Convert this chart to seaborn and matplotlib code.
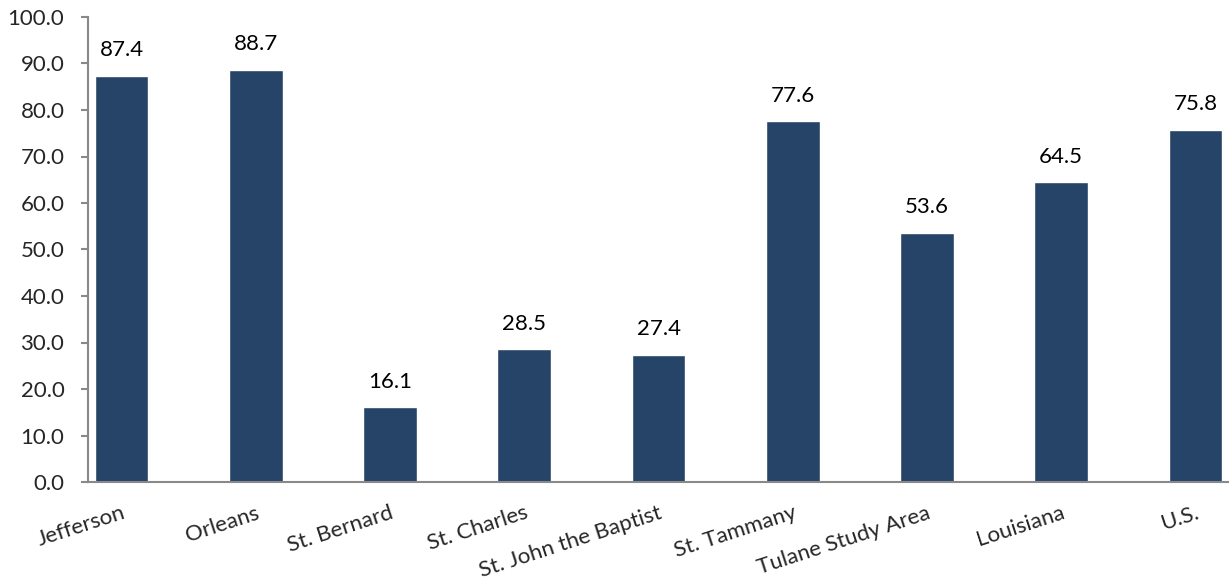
import matplotlib
matplotlib.use("Agg")
import matplotlib.pyplot as plt
import seaborn as sns
import numpy as np
import pandas as pd

# data
areas = ["Jefferson", "Orleans", "St. Bernard", "St. Charles", "St. John the Baptist",
         "St. Tammany", "Tulane Study Area", "Louisiana", "U.S."]
values = [87.4, 88.7, 16.1, 28.5, 27.4, 77.6, 53.6, 64.5, 75.8]

bar_color = "#254467"
axis_grey = "#898989"
fs = 16

sns.set_theme(style="white")
plt.rcParams['font.family'] = ['Lato', 'DejaVu Sans']

# every bar sits in every other slot of the axis (like an Excel chart with blank gaps)
slots = np.arange(len(areas)) * 2
df = pd.DataFrame({"slot": slots, "value": values, "area": areas})

fig = plt.figure(figsize=(12.29, 5.85), dpi=100)
ax = fig.add_axes([88 / 1229, 103 / 585, 1 - 88 / 1229, (482 - 17) / 585])

sns.barplot(data=df, x="slot", y="value", native_scale=True, width=0.4,
            color=bar_color, saturation=1, ax=ax)

for c in ax.containers:
    ax.bar_label(c, fmt="%.1f", padding=11, fontsize=fs, color="black")

ax.set_ylim(0, 100)
ax.set_xlim(-0.5, 16.45)
ax.set_yticks(np.arange(0, 101, 10))
ax.set_yticklabels([f"{v:.1f}" for v in np.arange(0, 101, 10)], fontsize=fs)

ax.set_xticks(slots)
ax.set_xticklabels(areas, fontsize=fs, rotation=18, ha="right", va="top",
                   rotation_mode="anchor")
ax.set_xticks(np.arange(-0.5, 17, 1), minor=True)
ax.tick_params(axis="x", which="major", length=0, pad=15)
ax.tick_params(axis="x", which="minor", length=6, width=1.5, color=axis_grey, direction="out")
ax.tick_params(axis="y", length=5, width=1.5, color=axis_grey, direction="out", pad=12, left=True)

ax.set_xlabel("")
ax.set_ylabel("")
for s in ["top", "right"]:
    ax.spines[s].set_visible(False)
for s in ["left", "bottom"]:
    ax.spines[s].set_color(axis_grey)
    ax.spines[s].set_linewidth(1.5)

fig.savefig("out.png", dpi=100)
